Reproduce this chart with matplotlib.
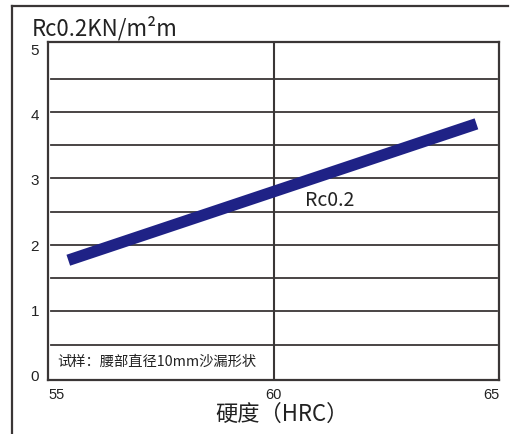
import matplotlib.pyplot as plt
from matplotlib.lines import Line2D

# data
hardness = [55.45, 64.5]
rc_values = [1.77, 3.82]
x_ticks = [55, 60, 65]
y_ticks = [0, 1, 2, 3, 4, 5]
grid_levels = [0.5, 1.0, 1.5, 2.0, 2.5, 3.0, 3.5, 4.0, 4.5]

plt.rcParams['font.family'] = ['Noto Sans CJK SC', 'DejaVu Sans']
line_color = '#1f2286'
frame_color = '#3a3636'
text_color = '#222222'

fig = plt.figure(figsize=(5.15, 4.35), dpi=100)
ax = fig.add_axes([48 / 515, 1 - 381 / 435, 451 / 515, 338 / 435])

# horizontal grid lines, vertical line at 60
for g in grid_levels:
    ax.axhline(g, xmin=0.007, xmax=0.995, color=frame_color, linewidth=1.3, zorder=1)
ax.axvline(60, color=frame_color, linewidth=1.5, zorder=1)

ax.plot(hardness, rc_values, color=line_color, linewidth=8.3,
        solid_capstyle='butt', zorder=3)

ax.set_xlim(55, 65)
ax.set_ylim(-0.03, 5.05)
ax.set_xticks([])
ax.set_yticks([])
for s in ax.spines.values():
    s.set_color(frame_color)
    s.set_linewidth(1.6)

# tick labels
for y in y_ticks:
    ax.text(-0.02, y * 0.98 + 0.03, str(y), transform=ax.get_yaxis_transform(),
            ha='right', va='center', fontsize=11, family='Liberation Sans', color=text_color)
x_align = {55: 'left', 60: 'center', 65: 'right'}
for x in x_ticks:
    ax.text(x, -0.022, str(x), transform=ax.get_xaxis_transform(),
            ha=x_align[x], va='top', fontsize=10.5, family='Liberation Sans', color=text_color)

ax.text(60.7, 2.68, 'Rc0.2', fontsize=14, color=text_color, va='center', ha='left')
ax.text(55.2, 0.26, '试样：腰部直径10mm沙漏形状', fontsize=10.3, color=text_color,
        va='center', ha='left')

fig.text(32 / 515, 1 - 28 / 435, 'Rc0.2KN/m²m', fontsize=16, color=text_color,
         ha='left', va='center')
fig.text(282 / 515, 1 - 414 / 435, '硬度（HRC）', fontsize=16, color=text_color,
         ha='center', va='center')

# outer frame (left and top edges)
fig.add_artist(Line2D([12 / 515, 12 / 515], [0, 1 - 7 / 435], color=frame_color,
                      linewidth=1.6, transform=fig.transFigure))
fig.add_artist(Line2D([12 / 515, 508 / 515], [1 - 7 / 435, 1 - 7 / 435], color=frame_color,
                      linewidth=1.6, transform=fig.transFigure))

fig.savefig('out.png', dpi=100)
